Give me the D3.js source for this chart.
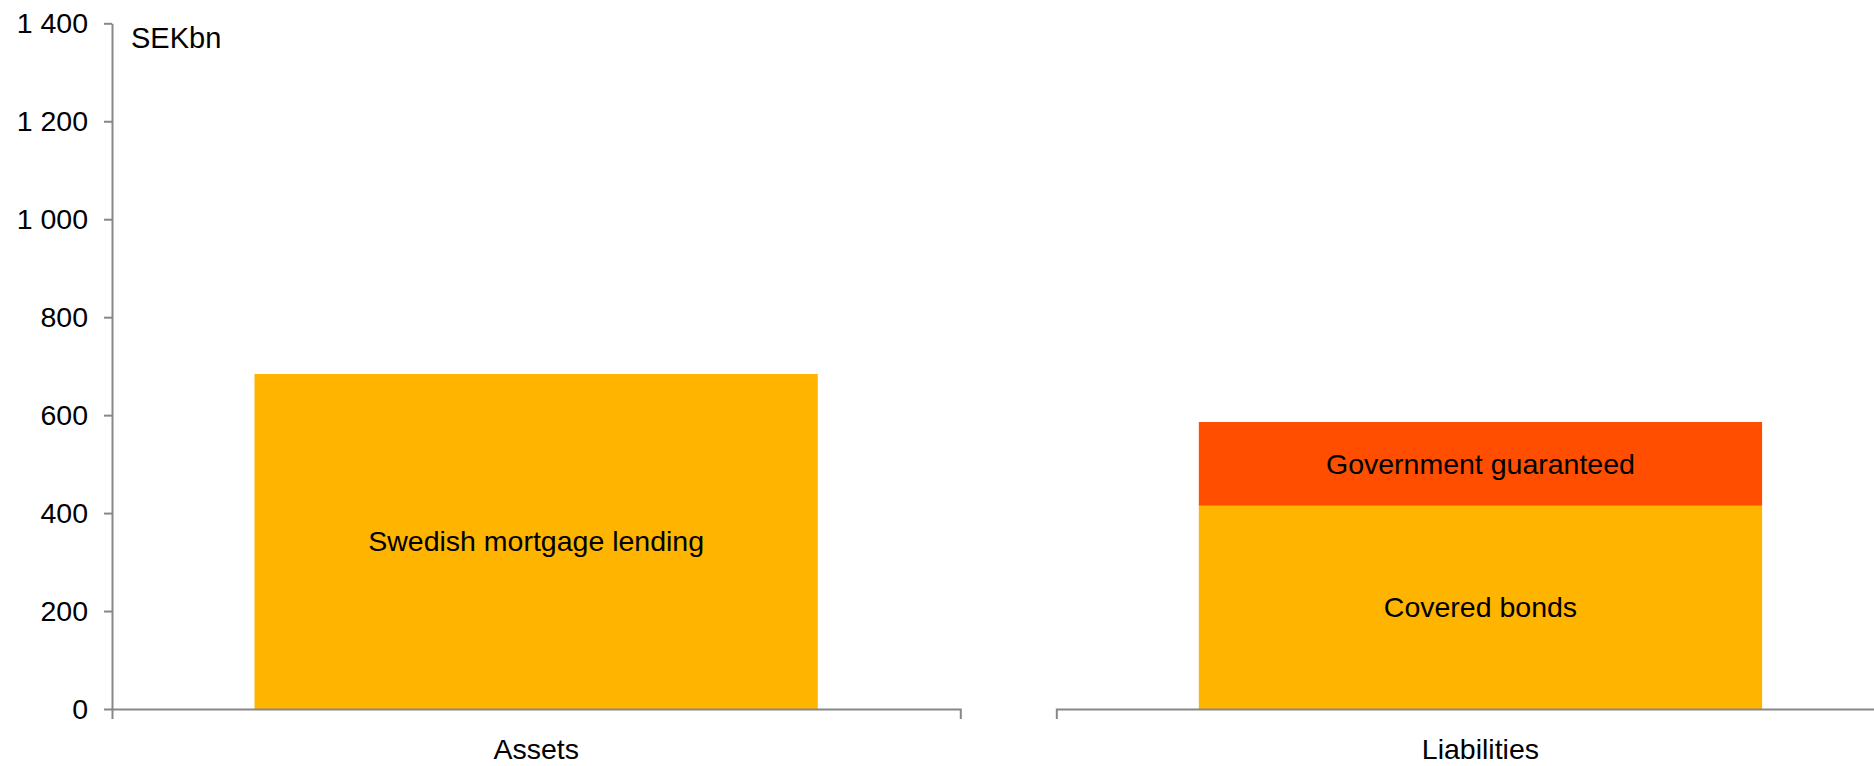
<!DOCTYPE html>
<html>
<head>
<meta charset="utf-8">
<script src="https://cdn.jsdelivr.net/npm/d3@7"></script>
<style>
  html, body { margin: 0; padding: 0; background: #ffffff; }
  svg { display: block; font-family: "Liberation Sans", Arial, sans-serif; }
  text { fill: #000000; }
</style>
</head>
<body>
<svg id="chart" width="1874" height="766"></svg>
<script>
// Balance sheet sides, SEK billions
const categories = ["Assets", "Liabilities"];
const segmentNames = ["Swedish mortgage lending", "Covered bonds", "Government guaranteed"];
const assetsValues = [684, 0, 0];
const liabilitiesValues = [0, 415, 171];
const yTicks = [0, 200, 400, 600, 800, 1000, 1200, 1400];
const unitLabel = "SEKbn";

const W = 1874, H = 766;
const svg = d3.select("#chart");
svg.append("rect").attr("width", W).attr("height", H).attr("fill", "#ffffff");

const axisColor = "#878787";
const segColors = {
  "Swedish mortgage lending": "#FFB400",
  "Covered bonds": "#FFB400",
  "Government guaranteed": "#FF4E00"
};

const y = d3.scaleLinear().domain([0, 1400]).range([709, 23.3]);

// each side gets its own panel; panels sit side by side with a gap
const x = d3.scaleBand()
  .domain(categories)
  .range([112, 1904.6])
  .paddingInner(0.1017)
  .paddingOuter(0);

const valuesByCat = { "Assets": assetsValues, "Liabilities": liabilitiesValues };
const rows = categories.map(c => {
  const r = { category: c };
  segmentNames.forEach((s, i) => r[s] = valuesByCat[c][i]);
  return r;
});
const series = d3.stack().keys(segmentNames)(rows);

const barW = x.bandwidth() * 0.664;
const barX = c => x(c) + (x.bandwidth() - barW) / 2;

// bars
const gBars = svg.append("g");
series.forEach(s => {
  s.forEach(d => {
    const v = d[1] - d[0];
    if (v <= 0) return;
    gBars.append("rect")
      .attr("x", barX(d.data.category))
      .attr("y", y(d[1]))
      .attr("width", barW)
      .attr("height", y(d[0]) - y(d[1]))
      .attr("fill", segColors[s.key]);
  });
});

// segment labels
series.forEach(s => {
  s.forEach(d => {
    const v = d[1] - d[0];
    if (v <= 0) return;
    svg.append("text")
      .attr("x", x(d.data.category) + x.bandwidth() / 2)
      .attr("y", (y(d[0]) + y(d[1])) / 2 + 10)
      .attr("text-anchor", "middle")
      .attr("font-size", "28.5px")
      .text(s.key);
  });
});

// y axis
const fmt = d3.formatLocale({ decimal: ",", thousands: " ", grouping: [3], currency: ["", ""] }).format(",");
const yAxis = svg.append("g")
  .attr("transform", "translate(112,0)")
  .call(d3.axisLeft(y).tickValues(yTicks).tickSize(8).tickSizeOuter(0).tickPadding(16).tickFormat(fmt));
yAxis.selectAll("path, line").attr("stroke", axisColor).attr("stroke-width", 2);
yAxis.selectAll("text").attr("font-size", "28.5px").attr("font-family", "\"Liberation Sans\", Arial, sans-serif").attr("fill", "#000");

// category axis, one segment per panel
categories.forEach(c => {
  const px = d3.scaleLinear().domain([0, 1]).range([x(c), x(c) + x.bandwidth()]);
  const g = svg.append("g")
    .attr("transform", "translate(0,709)")
    .call(d3.axisBottom(px).tickValues([]).tickSizeOuter(10));
  g.select("path").attr("stroke", axisColor).attr("stroke-width", 2).attr("fill", "none");
  svg.append("text")
    .attr("x", x(c) + x.bandwidth() / 2)
    .attr("y", 759)
    .attr("text-anchor", "middle")
    .attr("font-size", "28.5px")
    .text(c);
});

// unit label
svg.append("text")
  .attr("x", 131)
  .attr("y", 48)
  .attr("font-size", "29px")
  .text(unitLabel);
</script>
</body>
</html>
